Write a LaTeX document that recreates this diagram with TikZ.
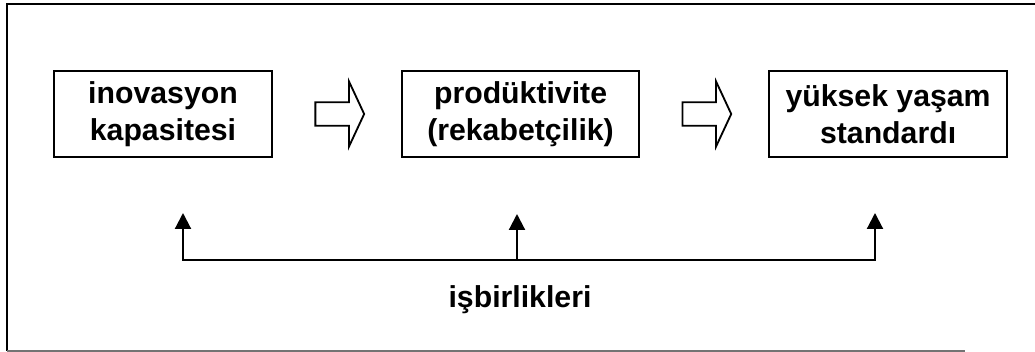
\documentclass[tikz,border=0pt]{standalone}
\usepackage{fontspec}
\setmainfont{Liberation Sans}
\usetikzlibrary{positioning,shapes.arrows,arrows.meta}
\tikzset{
  stage/.style={draw=black,line width=1.4pt,align=center,inner sep=0pt,
    font=\bfseries\fontsize{21.5}{26}\selectfont,minimum height=2.15cm},
  hollowarrow/.style={single arrow,draw=black,line width=1.3pt,inner sep=0.27cm,
    minimum height=1.22cm,single arrow head extend=0.52cm,single arrow tip angle=130},
  feedback/.style={line width=1.5pt,
    {Triangle[width=0.4cm,length=0.4cm]}-{Triangle[width=0.4cm,length=0.4cm]}},
  uparrow/.style={line width=1.5pt,-{Triangle[width=0.4cm,length=0.4cm]}},
  frame/.style={line width=1.4pt,draw=black}
}

\begin{document}
\begin{tikzpicture}[x=0.025cm,y=-0.025cm,node distance=3.2cm]
      \useasboundingbox (0,0) rectangle (1035,352);
      % frame (open on the right)
      \draw[frame] (1035,4) -- (7,4) -- (7,351);
      \draw[frame,draw=black!55,line width=1pt] (7,351) -- (965,351);
      % stages
      \node[stage,minimum width=5.45cm] (inov) at (163,114) {inovasyon\\kapasitesi};
      \node[stage,minimum width=5.925cm,right=of inov] (prod) {prodüktivite\\(rekabetçilik)};
      \node[stage,minimum width=5.95cm,right=of prod] (yasam) {yüksek yaşam\\standardı};
      \path (inov) -- node[hollowarrow] (ar1) {} (prod);
      \path (prod) -- node[hollowarrow] (ar2) {} (yasam);
      % cooperation
      \coordinate (u1) at (183,213);
      \coordinate (b1) at (183,260);
      \coordinate (u2) at (517,214);
      \coordinate (b2) at (517,260);
      \coordinate (u3) at (875,213);
      \coordinate (b3) at (875,260);
      \draw[feedback] (u1) -- (b1) -- (b3) -- (u3);
      \draw[uparrow] (b2) -- (u2);
      \node[font=\bfseries\fontsize{21.5}{26}\selectfont] (coop) at (520,300) {işbirlikleri};
    \end{tikzpicture}
\end{document}
